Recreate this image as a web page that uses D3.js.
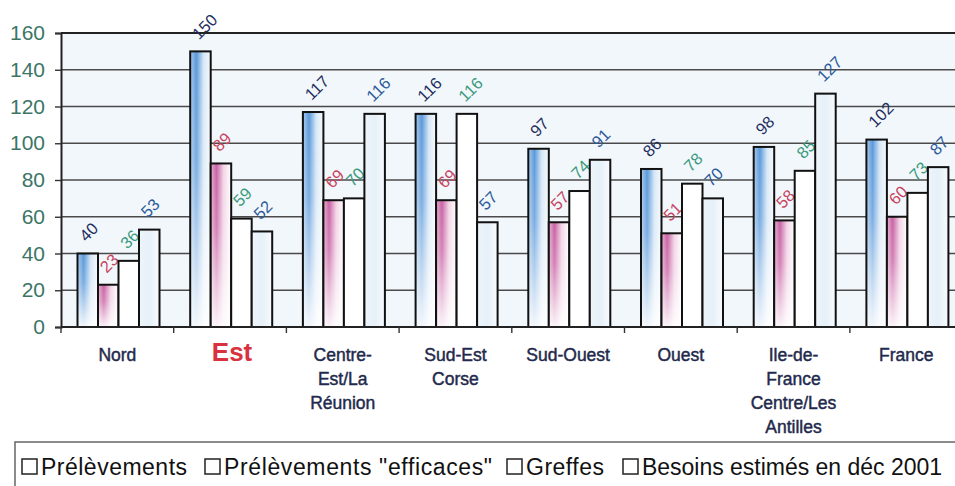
<!DOCTYPE html>
<html><head><meta charset="utf-8">
<script src="https://cdn.jsdelivr.net/npm/d3@7/dist/d3.min.js"></script>
<style>body{margin:0;background:#fff}svg{display:block}</style>
</head><body>
<svg id="c" width="955" height="486"></svg>
<script>
const categories = [["Nord"],["Est"],["Centre-","Est/La","Réunion"],["Sud-Est","Corse"],["Sud-Ouest"],["Ouest"],["Ile-de-","France","Centre/Les","Antilles"],["France"]];
const seriesNames = ["Prélèvements","Prélèvements \"efficaces\"","Greffes","Besoins estimés en déc 2001"];
const prelevements = [40,150,117,116,97,86,98,102];
const efficaces    = [23,89,69,69,57,51,58,60];
const greffes      = [36,59,70,116,74,78,85,73];
const besoins      = [53,52,116,57,91,70,127,87];
const yTicks = [0,20,40,60,80,100,120,140,160];

(function(){
const series = [prelevements, efficaces, greffes, besoins];
const labelColors = ["#1f2f5e","#c8445e","#3a9a7c","#2d5a9a"];

const svg = d3.select("#c");
const defs = svg.append("defs");
function grad(id, stops, x2, y2){
  const g = defs.append("linearGradient").attr("id",id).attr("x1",0).attr("y1",0).attr("x2",x2).attr("y2",y2);
  stops.forEach(s=>g.append("stop").attr("offset",s[0]).attr("stop-color",s[1]).attr("stop-opacity",s[2]===undefined?1:s[2]));
}
grad("gBlue",[[0,"#a8cbec"],[0.3,"#5a98da"],[0.65,"#d6e7f6"],[1,"#f6fafd"]],1,0);
grad("gPink",[[0,"#e6b0d0"],[0.28,"#c862a4"],[0.62,"#f2d4e6"],[1,"#ffffff"]],1,0);
grad("gFade",[[0,"#ffffff",0],[0.4,"#ffffff",0.2],[1,"#ffffff",0.92]],0,1);
grad("gPale",[[0,"#eef5fb"],[0.5,"#e6f0f8"],[1,"#f8fbfe"]],1,0);

const pLeft = 61, catW = 112.7, pTop = 33, pBottom = 327;
const x0 = d3.scaleBand().domain(d3.range(categories.length)).range([pLeft, pLeft + catW*categories.length]).padding(0);
const x1 = d3.scaleBand().domain(d3.range(4)).range([16.5, 16.5+82]).padding(0);
const y = d3.scaleLinear().domain([0,160]).range([pBottom, pTop]);

svg.append("rect").attr("x",pLeft).attr("y",pTop).attr("width",x0.range()[1]-pLeft).attr("height",pBottom-pTop).attr("fill","#f2f7fc");

svg.append("g").selectAll("line").data(yTicks.filter(d=>d>0 && d<160)).join("line")
  .attr("x1",pLeft).attr("x2",960).attr("y1",d=>y(d)).attr("y2",d=>y(d))
  .attr("stroke","#4a4a4a").attr("stroke-width",1.4);
svg.append("line").attr("x1",pLeft).attr("x2",960).attr("y1",y(160)).attr("y2",y(160)).attr("stroke","#222").attr("stroke-width",2);

const yAxis = d3.axisLeft(y).tickValues(yTicks).tickSize(6).tickPadding(10);
const ya = svg.append("g").attr("transform",`translate(${pLeft},0)`).call(yAxis);
ya.select(".domain").attr("stroke","#222").attr("stroke-width",2);
ya.selectAll(".tick line").attr("stroke","#333").attr("stroke-width",1.4);
ya.selectAll(".tick text").attr("font-family","Liberation Sans, Arial, sans-serif").attr("font-size",21).attr("fill","#3c7566");

const fills = ["url(#gBlue)","url(#gPink)","#ffffff","url(#gPale)"];
const groups = svg.append("g").selectAll("g").data(categories).join("g")
  .attr("transform",(d,i)=>`translate(${x0(i)},0)`);
groups.each(function(c,i){
  const g = d3.select(this);
  series.forEach((s,k)=>{
    const bx = x1(k), bw = x1.bandwidth(), by = y(s[i]), bh = y(0)-y(s[i]);
    g.append("rect").attr("x",bx).attr("y",by).attr("width",bw).attr("height",bh).attr("fill",fills[k]);
    if(k<2) g.append("rect").attr("x",bx).attr("y",by).attr("width",bw).attr("height",bh).attr("fill","url(#gFade)");
    g.append("rect").attr("x",bx).attr("y",by).attr("width",bw).attr("height",bh)
      .attr("fill","none").attr("stroke","#111").attr("stroke-width",2);
    g.append("text").attr("transform",`translate(${bx+bw/2-1.5},${by-11}) rotate(-45)`)
      .attr("font-family","Liberation Sans, Arial, sans-serif").attr("font-size",16.5)
      .attr("fill",labelColors[k]).text(s[i]);
  });
});

svg.append("line").attr("x1",pLeft).attr("x2",960).attr("y1",pBottom).attr("y2",pBottom).attr("stroke","#222").attr("stroke-width",2);
const xa = svg.append("g");
xa.selectAll("line").data(d3.range(categories.length+1)).join("line")
  .attr("x1",i=>pLeft+i*catW).attr("x2",i=>pLeft+i*catW).attr("y1",pBottom).attr("y2",pBottom+6)
  .attr("stroke","#333").attr("stroke-width",1.4);
xa.selectAll("text").data(categories).join("text")
  .attr("x",(d,i)=>x0(i)+x0.bandwidth()/2 + (i===1?2:0)).attr("y",361)
  .attr("text-anchor","middle").attr("font-family","Liberation Sans, Arial, sans-serif")
  .attr("font-weight",(d,i)=>i===1?"bold":"normal")
  .attr("font-size",(d,i)=>i===1?26:17.5)
  .attr("fill",(d,i)=>i===1?"#d8323f":"#1f2a4c")
  .attr("stroke",(d,i)=>i===1?"none":"#1f2a4c").attr("stroke-width",0.45)
  .each(function(d){
    const xx = d3.select(this).attr("x");
    d3.select(this).selectAll("tspan").data(d).join("tspan")
      .attr("x",xx).attr("dy",(t,j)=>j===0?0:24).text(t=>t);
  });

svg.append("rect").attr("x",15).attr("y",442).attr("width",960).attr("height",60)
  .attr("fill","#fff").attr("stroke","#666").attr("stroke-width",1.5);
const legX = [22,205,507,623];
const legLen = [146,268,78,300];
const leg = svg.append("g").selectAll("g").data(seriesNames).join("g")
  .attr("transform",(d,i)=>`translate(${legX[i]},0)`);
leg.append("rect").attr("x",0).attr("y",459).attr("width",15).attr("height",15)
  .attr("fill","#fff").attr("stroke","#222").attr("stroke-width",1.5);
leg.append("text").attr("x",19).attr("y",475).attr("font-family","Liberation Sans, Arial, sans-serif")
  .attr("font-size",23).attr("fill","#111")
  .attr("textLength",(d,i)=>legLen[i]).attr("lengthAdjust","spacing").text(d=>d);
})();
</script>
</body></html>
